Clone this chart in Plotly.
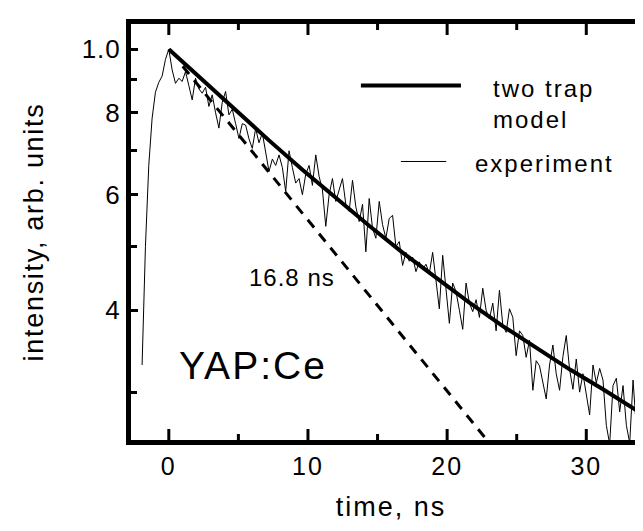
import math
import plotly.graph_objects as go

# ---------------- data ----------------
# two trap model (thick solid curve)
model_t = [0.0, 2.4, 4.8, 7.2, 9.6, 12.0, 14.4, 16.8, 19.2, 21.6, 24.0, 26.4, 28.8, 31.2, 34.8]
model_i = [1.0, 0.8976, 0.8065, 0.7261, 0.6551, 0.5927, 0.5379, 0.4897, 0.4475,
           0.4107, 0.3783, 0.3499, 0.3250, 0.3030, 0.2712]

# single exponential, 16.8 ns (dashed)
tau_t = [1.0, 23.0]
tau_i = [0.942, 0.2515]

# experiment (thin noisy curve), sampled every 0.24 ns starting at -1.92 ns
exp_t0 = -1.92
exp_dt = 0.24
exp_i = [
    0.33, 0.50, 0.665, 0.785, 0.86, 0.89, 0.91, 0.965, 1.0,
    0.93, 0.887, 0.903, 0.893, 0.924, 0.88, 0.837, 0.903, 0.87, 0.857,
    0.875, 0.818, 0.852, 0.80, 0.758, 0.83, 0.862, 0.794, 0.81, 0.77,
    0.731, 0.77, 0.766, 0.73, 0.706, 0.757, 0.72, 0.745,
    0.70, 0.651, 0.68, 0.665, 0.69, 0.66, 0.607, 0.70, 0.66, 0.625,
    0.635, 0.60, 0.645, 0.665, 0.62, 0.69, 0.64, 0.61, 0.537, 0.60,
    0.635, 0.586, 0.61, 0.635, 0.58, 0.566, 0.631, 0.575, 0.546, 0.58,
    0.491, 0.592, 0.533, 0.515, 0.586, 0.54, 0.515, 0.552, 0.558, 0.50,
    0.509, 0.468, 0.49, 0.475, 0.482, 0.458, 0.474, 0.462, 0.47, 0.455,
    0.49, 0.44, 0.402, 0.485, 0.43, 0.382, 0.44, 0.427, 0.40, 0.374,
    0.44, 0.41, 0.398, 0.415, 0.39, 0.432, 0.40, 0.388, 0.41, 0.372,
    0.429, 0.38, 0.37, 0.402, 0.39, 0.341, 0.372, 0.366, 0.339, 0.36,
    0.302, 0.335, 0.329, 0.31, 0.293, 0.33, 0.354, 0.32, 0.302, 0.34,
    0.366, 0.325, 0.303, 0.337, 0.30, 0.32, 0.295, 0.277, 0.33, 0.31,
    0.326, 0.313, 0.267, 0.25, 0.307, 0.315, 0.28, 0.307, 0.267, 0.251,
    0.313, 0.264, 0.262, 0.29, 0.27, 0.25, 0.27,
]
exp_t = [round(exp_t0 + exp_dt * k, 2) for k in range(len(exp_i))]

x_major = [0, 10, 20, 30]
x_minor = [5, 15, 25]
y_ticks = [1.0, 0.8, 0.6, 0.4]
y_tick_text = ["1.0", "8", "6", "4"]
y_minor = [0.9, 0.7, 0.5, 0.3]

FONT = "Liberation Sans, Arial, sans-serif"
PLOT_H = 531 - 16 - 99   # plot-area height in px (for tick lengths in paper units)


def sp(s, px):
    return f'<span style="letter-spacing:{px}px">{s}</span>'


fig = go.Figure()
fig.add_trace(go.Scatter(x=exp_t, y=exp_i, mode="lines", name="experiment",
                         line=dict(color="black", width=1)))
fig.add_trace(go.Scatter(x=model_t, y=model_i, mode="lines", name="two trap model",
                         line=dict(color="black", width=4)))
fig.add_trace(go.Scatter(x=tau_t, y=tau_i, mode="lines", name="16.8 ns",
                         line=dict(color="black", width=3, dash="10px,8px")))

yr = [math.log10(0.2536), math.log10(1.0925)]

fig.update_layout(
    width=643, height=531,
    margin=dict(l=123, r=0, t=16, b=99, autoexpand=False),
    plot_bgcolor="white", paper_bgcolor="white",
    showlegend=False,
    font=dict(family=FONT, color="black"),
    xaxis=dict(
        range=[-2.717, 34.65], showline=True, linewidth=5, linecolor="black",
        mirror=True, ticks="", tickmode="array", tickvals=x_major,
        ticktext=[sp(str(v), 2) for v in x_major],
        tickfont=dict(size=25, family=FONT), automargin=False,
        showgrid=False, zeroline=False,
        title=dict(text=sp("time, ns", 2), font=dict(size=27, family=FONT), standoff=20),
    ),
    yaxis=dict(
        type="log", range=yr, showline=True, linewidth=5, linecolor="black",
        mirror="ticks", ticks="inside", ticklen=7, tickwidth=3, tickcolor="black",
        tickmode="array", tickvals=y_ticks, ticktext=[sp(t, 1) for t in y_tick_text],
        tickfont=dict(size=26, family=FONT), automargin=False,
        minor=dict(tickmode="array", tickvals=y_minor, ticks="inside", ticklen=6,
                   tickwidth=3, tickcolor="black"),
        showgrid=False, zeroline=False,
        title=dict(text=sp("intensity, arb. units", 1.7), font=dict(size=27, family=FONT),
                   standoff=32),
    ),
)

# inward tick marks on the bottom and top frame (major / minor)
for vals, ln in ((x_major, 11), (x_minor, 6)):
    for v in vals:
        fig.add_shape(type="line", xref="x", yref="paper", x0=v, x1=v,
                      y0=0, y1=ln / PLOT_H, layer="above",
                      line=dict(color="black", width=3))
        fig.add_shape(type="line", xref="x", yref="paper", x0=v, x1=v,
                      y0=1, y1=1 - ln / PLOT_H, layer="above",
                      line=dict(color="black", width=3))

# legend drawn as in the original figure
fig.add_shape(type="line", xref="paper", yref="paper", x0=0.4421, x1=0.6345,
              y0=0.8522, y1=0.8522, line=dict(color="black", width=4))
fig.add_shape(type="line", xref="paper", yref="paper", x0=0.5190, x1=0.6061,
              y0=0.6695, y1=0.6695, line=dict(color="black", width=1))
fig.add_annotation(xref="paper", yref="paper", x=0.6922, y=0.8084, xanchor="left",
                   yanchor="middle", align="left", showarrow=False,
                   text=sp("two trap", 2) + "<br>" + sp("model", 2),
                   font=dict(size=24, family=FONT, color="black"))
fig.add_annotation(xref="paper", yref="paper", x=0.6576, y=0.6654, xanchor="left",
                   yanchor="middle", showarrow=False, text=sp("experiment", 2),
                   font=dict(size=24, family=FONT, color="black"))
fig.add_annotation(xref="paper", yref="paper", x=0.3094, y=0.3913, xanchor="center",
                   yanchor="middle", showarrow=False, text=sp("16.8 ns", 1),
                   font=dict(size=24, family=FONT, color="black"))
fig.add_annotation(xref="paper", yref="paper", x=0.2343, y=0.1798, xanchor="center",
                   yanchor="middle", showarrow=False, text=sp("YAP:Ce", 2),
                   font=dict(size=39, family=FONT, color="black"))

fig.write_html("out.html")
